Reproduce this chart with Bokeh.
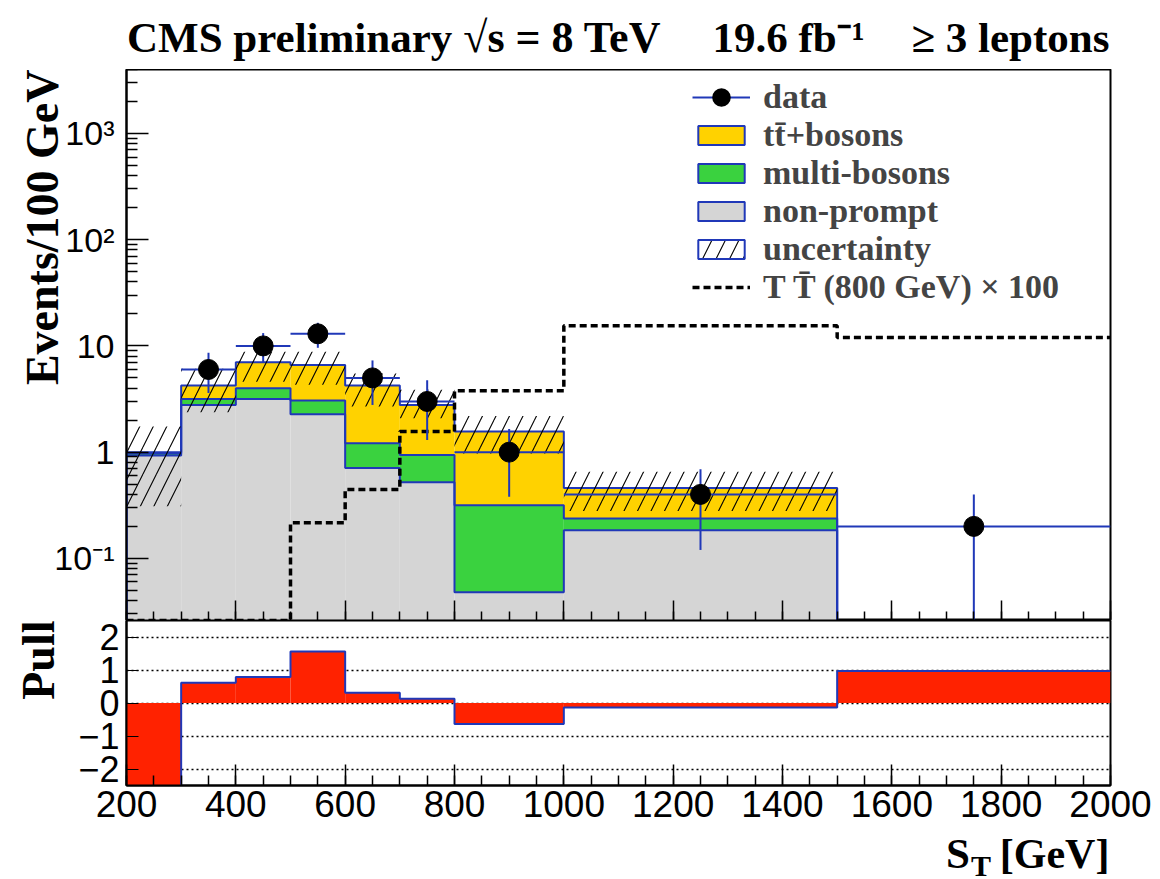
import numpy as np
from bokeh.plotting import figure
from bokeh.models import (Range1d, ColumnDataSource, Label, Legend, LegendItem,
                          FixedTicker, SingleIntervalTicker)
from bokeh.layouts import column
from bokeh.embed import file_html
from bokeh.resources import INLINE

# ---------------- data ----------------
edges = [200, 300, 400, 500, 600, 700, 800, 1000, 1500, 2000]
nonprompt = [0.93, 2.78, 3.16, 2.27, 0.71, 0.52, 0.048, 0.184, 0.0]
multibosons = [0.04, 0.38, 0.83, 0.79, 0.50, 0.42, 0.268, 0.053, 0.0]
ttbosons = [0.03, 1.07, 3.01, 3.54, 3.02, 1.84, 1.244, 0.222, 0.0]
unc_lo = [0.31, 2.37, 4.6, 4.3, 2.69, 2.08, 0.97, 0.279, 0.0]
unc_hi = [1.74, 6.1, 8.8, 8.8, 5.5, 3.86, 2.19, 0.655, 0.0]
data = [0.0, 6.0, 10.0, 13.0, 5.0, 3.0, 1.0, 0.4, 0.2]
data_hi = [0.0, 8.6, 13.2, 16.5, 7.3, 4.75, 1.65, 0.69, 0.40]
data_lo = [0.0, 3.6, 7.0, 9.6, 2.78, 1.3, 0.38, 0.12, 0.0]
signal_x100 = [0.0, 0.0, 0.0, 0.216, 0.446, 1.56, 3.78, 15.5, 12.0]
pull = [-2.8, 0.61, 0.79, 1.56, 0.31, 0.13, -0.64, -0.14, 0.97]

y_major = [0.1, 1, 10, 100, 1000]
y_labels = {0.1: "10\u207b\u00b9", 1: "1", 10: "10", 100: "10\u00b2", 1000: "10\u00b3"}
pull_ticks = [-2, -1, 0, 1, 2]

# ---------------- style ----------------
YELLOW = "#ffd200"
GREEN = "#3ad23f"
GREY = "#d5d5d5"
BLUE = "#2038b8"
RED = "#ff2200"
SERIF = "Liberation Serif"
SANS = "Liberation Sans"
YMIN, YMAX = 0.026, 4000.0
FLOOR = 1e-4

e = np.array(edges, float)
left, right = e[:-1], e[1:]
centers = 0.5 * (left + right)
n = len(left)

c1 = np.array(nonprompt, float)
c2 = c1 + np.array(multibosons, float)
c3 = c2 + np.array(ttbosons, float)


def pos(a):
    a = np.asarray(a, float)
    return np.where(a > 0, a, FLOOR)


def step_path(vals, floor=None):
    xs, ys = [], []
    if floor is not None:
        xs.append(edges[0]); ys.append(floor)
    for i, v in enumerate(vals):
        xs += [edges[i], edges[i + 1]]
        ys += [v, v]
    if floor is not None:
        xs.append(edges[-1]); ys.append(floor)
    return xs, ys


FIG_W = 1160
BL, BR = 124, 50
TITLE_H, MAIN_H, PULL_H, BOTTOM_H = 69, 551, 215, 43

xr = Range1d(200, 2000)


def strip(h):
    f = figure(width=FIG_W, height=h, x_range=xr, y_range=Range1d(0, h),
               x_axis_location=None, y_axis_location=None, toolbar_location=None,
               output_backend="svg", min_border_left=BL, min_border_right=BR,
               min_border_top=0, min_border_bottom=0, outline_line_color=None,
               background_fill_color="white", border_fill_color="white")
    f.grid.visible = False
    return f


def tk(size):
    return dict(text_font=SERIF, text_font_style="bold", text_font_size=f"{size}px",
                text_color="black", text_baseline="alphabetic")

# ---------------- main panel ----------------
p = figure(width=FIG_W, height=MAIN_H, x_range=xr, y_range=Range1d(YMIN, YMAX),
           y_axis_type="log", output_backend="svg", toolbar_location=None,
           min_border_left=BL, min_border_right=BR, min_border_top=0,
           min_border_bottom=0, background_fill_color="white",
           border_fill_color="white")
p.grid.visible = False
p.outline_line_color = "black"
p.outline_line_width = 2

stack = ColumnDataSource(dict(left=left, right=right, b0=np.full(n, FLOOR),
                              c1=pos(c1), c2=pos(c2), c3=pos(c3)))
p.quad(left="left", right="right", bottom="b0", top="c1", source=stack,
       fill_color=GREY, line_alpha=0)
p.quad(left="left", right="right", bottom="c1", top="c2", source=stack,
       fill_color=GREEN, line_alpha=0)
p.quad(left="left", right="right", bottom="c2", top="c3", source=stack,
       fill_color=YELLOW, line_alpha=0)

# legend proxies (hidden renderers sharing the same data)
r_tt = p.quad(left="left", right="right", bottom="c2", top="c3", source=stack,
              fill_color=YELLOW, line_color=BLUE, line_width=2, visible=False)
r_mb = p.quad(left="left", right="right", bottom="c1", top="c2", source=stack,
              fill_color=GREEN, line_color=BLUE, line_width=2, visible=False)
r_np = p.quad(left="left", right="right", bottom="b0", top="c1", source=stack,
              fill_color=GREY, line_color=BLUE, line_width=2, visible=False)

for c in (c3, c2, c1):
    xs, ys = step_path(pos(c), FLOOR)
    p.line(xs, ys, line_color=BLUE, line_width=2)

# uncertainty hatch
ulo = np.array(unc_lo, float); uhi = np.array(unc_hi, float)
ok = uhi > 0
unc = ColumnDataSource(dict(left=left[ok], right=right[ok], bottom=ulo[ok], top=uhi[ok]))
p.quad(left="left", right="right", bottom="bottom", top="top", source=unc,
       fill_alpha=0, line_alpha=0, hatch_pattern="/", hatch_color="black",
       hatch_scale=27, hatch_weight=1.1)
r_unc = p.quad(left="left", right="right", bottom="bottom", top="top", source=unc,
               fill_alpha=0, line_color=BLUE, line_width=2, hatch_pattern="/",
               hatch_color="black", hatch_scale=27, hatch_weight=1.1, visible=False)

# signal
sxs, sys_ = step_path(np.maximum(np.array(signal_x100, float), YMIN))
r_sig = p.line(sxs, sys_, line_color="black", line_width=3.5, line_dash="7 4")

# data
d = np.array(data, float)
m = d > 0
dsrc = ColumnDataSource(dict(x=centers[m], y=d[m], left=left[m], right=right[m],
                             lo=pos(data_lo)[m], hi=np.array(data_hi, float)[m]))
r_dh = p.segment(x0="left", x1="right", y0="y", y1="y", source=dsrc,
                 line_color=BLUE, line_width=2)
p.segment(x0="x", x1="x", y0="lo", y1="hi", source=dsrc,
          line_color=BLUE, line_width=2)
p.scatter("x", "y", source=dsrc, size=20, fill_color="black",
          line_color="black", marker="circle")
r_dp = p.scatter("x", "y", source=dsrc, size=20, fill_color="black",
                 line_color="black", line_width=9, marker="circle", visible=False)

# axes main
minor = [k * 10.0 ** ex for ex in range(-2, 4) for k in range(2, 10)
         if YMIN <= k * 10.0 ** ex <= YMAX]
ya = p.yaxis[0]
ya.ticker = FixedTicker(ticks=y_major, minor_ticks=minor)
ya.major_label_overrides = y_labels
ya.major_tick_in = 22
ya.major_tick_out = 0
ya.minor_tick_in = 11
ya.minor_tick_out = 0
ya.axis_line_width = 2
ya.major_tick_line_width = 1.5
ya.minor_tick_line_width = 1.5
ya.major_label_standoff = 12
ya.major_label_text_font = SANS
ya.major_label_text_font_size = "34px"
ya.major_label_text_color = "black"

xa = p.xaxis[0]
xa.ticker = SingleIntervalTicker(interval=200, num_minor_ticks=4)
xa.major_tick_in = 20
xa.major_tick_out = 0
xa.minor_tick_in = 9
xa.minor_tick_out = 0
xa.axis_line_width = 2
xa.major_tick_line_width = 1.5
xa.minor_tick_line_width = 1.5
xa.major_label_text_font_size = "1px"
xa.major_label_text_color = None
xa.major_label_standoff = 0

legend = Legend(items=[
    LegendItem(label="data", renderers=[r_dh, r_dp]),
    LegendItem(label="tt\u0304+bosons", renderers=[r_tt]),
    LegendItem(label="multi-bosons", renderers=[r_mb]),
    LegendItem(label="non-prompt", renderers=[r_np]),
    LegendItem(label="uncertainty", renderers=[r_unc]),
    LegendItem(label="T T\u0304 (800 GeV) \u00d7 100", renderers=[r_sig]),
], location=(566, 314), padding=0, margin=0, spacing=0, glyph_width=58,
    glyph_height=24, label_height=24, label_standoff=13,
    label_text_font=SERIF, label_text_font_style="bold",
    label_text_font_size="34px", label_text_line_height=1.0,
    background_fill_alpha=0, border_line_alpha=0, inactive_fill_alpha=0)
p.add_layout(legend)

# y-axis title in the left side panel (not clipped there)
p.add_layout(Label(x=200, y=YMAX, x_offset=-84, y_offset=0, angle=np.pi / 2,
                   text="Events/100 GeV", text_align="right", **tk(46)), "left")

# ---------------- pull panel ----------------
q = figure(width=FIG_W, height=PULL_H, x_range=xr, y_range=Range1d(-2.5, 2.5),
           output_backend="svg", toolbar_location=None,
           min_border_left=BL, min_border_right=BR, min_border_top=0,
           min_border_bottom=50, background_fill_color="white",
           border_fill_color="white")
q.outline_line_color = "black"
q.outline_line_width = 2
q.xgrid.visible = False
q.ygrid[0].ticker = FixedTicker(ticks=pull_ticks)
q.ygrid.grid_line_color = "black"
q.ygrid.grid_line_dash = "2 3"
q.ygrid.grid_line_width = 1.5

pv = np.array(pull, float)
psrc = ColumnDataSource(dict(left=left, right=right, bottom=np.zeros(n), top=pv))
q.quad(left="left", right="right", bottom="bottom", top="top", source=psrc,
       fill_color=RED, line_alpha=0)
pxs, pys = step_path(pv)
q.line(pxs, pys, line_color=BLUE, line_width=2)

qy = q.yaxis[0]
qy.ticker = FixedTicker(ticks=pull_ticks, minor_ticks=[])
qy.major_tick_in = 12
qy.major_tick_out = 0
qy.minor_tick_in = 0
qy.minor_tick_out = 0
qy.axis_line_width = 2
qy.major_label_standoff = 7
qy.major_label_text_font = SANS
qy.major_label_text_font_size = "36px"
qy.major_label_text_color = "black"

qx = q.xaxis[0]
qx.ticker = SingleIntervalTicker(interval=200, num_minor_ticks=4)
qx.major_tick_in = 21
qx.major_tick_out = 0
qx.minor_tick_in = 10
qx.minor_tick_out = 0
qx.axis_line_width = 2
qx.major_tick_line_width = 1.5
qx.minor_tick_line_width = 1.5
qx.major_label_standoff = 5
qx.major_label_text_font = SANS
qx.major_label_text_font_size = "37px"
qx.major_label_text_color = "black"

q.add_layout(Label(x=200, y=2.5, x_offset=-88, y_offset=0, angle=np.pi / 2,
                   text="Pull", text_align="right", **tk(46)), "left")

# ---------------- text strips ----------------
top = strip(TITLE_H)
tb = 32  # anchor height above the strip bottom
top.add_layout(Label(x=201, y=tb, text="CMS preliminary", text_align="left", **tk(43)))
top.add_layout(Label(x=816, y=tb, text="\u221as = 8 TeV", text_align="left", **tk(44)))
top.add_layout(Label(x=1272, y=tb, text="19.6 fb\u207b\u00b9", text_align="left", **tk(43)))
top.add_layout(Label(x=1998, y=tb, text="\u2265 3 leptons", text_align="right", **tk(43)))

bot = strip(BOTTOM_H)
bot.add_layout(Label(x=1998, y=25, text="[GeV]", text_align="right", **tk(42)))
bot.add_layout(Label(x=1743, y=25, text="S", text_align="right", **tk(43)))
bot.add_layout(Label(x=1745, y=13, text="T", text_align="left", **tk(30)))

layout = column(top, p, q, bot, spacing=0)
open("out.html", "w").write(file_html(layout, INLINE))
